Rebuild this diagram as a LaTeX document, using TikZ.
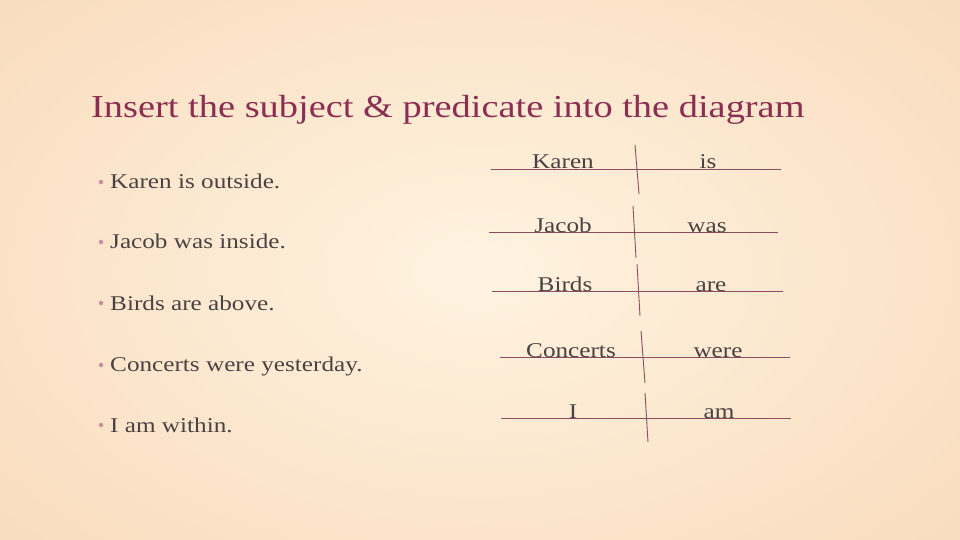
\documentclass[tikz,border=0pt]{standalone}
\usepackage{fontspec}
\setmainfont{Liberation Serif}[FakeStretch=1.2]
\definecolor{bgA}{HTML}{FFF3E0}
\definecolor{bgB}{HTML}{F9DDBF}
\definecolor{titlec}{HTML}{8A2E52}
\definecolor{textc}{HTML}{4A4242}
\definecolor{linec}{HTML}{8A4D62}
\definecolor{bulc}{HTML}{C78E9E}
\tikzset{
  bul/.style={anchor=base west, inner sep=0pt, font=\fontsize{21}{25}\selectfont, text=textc},
  word/.style={anchor=base, inner sep=0pt, font=\fontsize{21}{25}\selectfont, text=textc},
  dot/.style={circle, fill=bulc, inner sep=0pt, minimum size=4.5pt},
  rule/.style={draw=linec, line width=0.9pt},
}
\begin{document}
\begin{tikzpicture}[x=1pt,y=-1pt]
\useasboundingbox (0,0) rectangle (960,540);
\shade[inner color=bgA, outer color=bgB] (-150,-120) rectangle (1110,660);
\node[anchor=base west, inner sep=0pt, font=\fontsize{32}{38}\selectfont, text=titlec] (title) at (91,118) {Insert the subject \& predicate into the diagram};
% bullets
\node[dot] (d1) at (101,182) {};
\node[dot] (d2) at (101,242) {};
\node[dot] (d3) at (101,303) {};
\node[dot] (d4) at (101,365) {};
\node[dot] (d5) at (101,425) {};
\node[bul] (b1) at (110,188) {Karen is outside.};
\node[bul] (b2) at (110,248) {Jacob was inside.};
\node[bul] (b3) at (110,310) {Birds are above.};
\node[bul] (b4) at (110,371) {Concerts were yesterday.};
\node[bul] (b5) at (110,432) {I am within.};
% diagram lines
\coordinate (h1a) at (491,169); \coordinate (h1b) at (781,169);
\coordinate (v1a) at (635,145); \coordinate (v1b) at (639,194);
\coordinate (h2a) at (489,232); \coordinate (h2b) at (778,232);
\coordinate (v2a) at (633,206); \coordinate (v2b) at (636,258);
\coordinate (h3a) at (492,291); \coordinate (h3b) at (783,291);
\coordinate (v3a) at (637,264); \coordinate (v3b) at (640,316);
\coordinate (h4a) at (500,357); \coordinate (h4b) at (790,357);
\coordinate (v4a) at (641,331); \coordinate (v4b) at (645,383);
\coordinate (h5a) at (501,418); \coordinate (h5b) at (791,418);
\coordinate (v5a) at (645,393); \coordinate (v5b) at (648,442);
\foreach \i in {1,...,5} {
  \draw[rule] (h\i a) -- (h\i b);
  \draw[rule] (v\i a) -- (v\i b);
}
\node[word] (s1) at (563,169) {Karen};
\node[word] (p1) at (708,169) {is};
\node[word] (s2) at (563,232) {Jacob};
\node[word] (p2) at (707,232) {was};
\node[word] (s3) at (565,291) {Birds};
\node[word] (p3) at (711,291) {are};
\node[word] (s4) at (571,357) {Concerts};
\node[word] (p4) at (718,357) {were};
\node[word] (s5) at (573,418) {I};
\node[word] (p5) at (719,418) {am};
\end{tikzpicture}
\end{document}
